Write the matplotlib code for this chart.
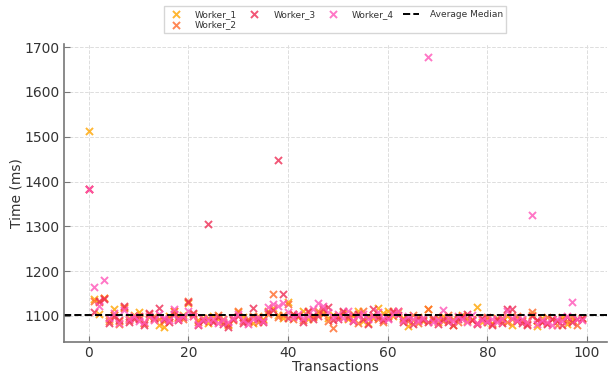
import matplotlib
matplotlib.use("Agg")
import matplotlib.pyplot as plt
import numpy as np

# transaction times (ms) per worker
worker_1 = [1512, 1137, 1105, 1140, 1092, 1115, 1088, 1120, 1095, 1102, 1108, 1085, 1098, 1092, 1080, 1076, 1100, 1110, 1095, 1102,
            1128, 1104, 1090, 1096, 1084, 1100, 1092, 1086, 1080, 1095, 1108, 1098, 1090, 1085, 1100, 1093, 1112, 1118, 1102, 1096,
            1130, 1105, 1098, 1112, 1094, 1100, 1106, 1110, 1095, 1102, 1098, 1104, 1092, 1100, 1110, 1088, 1084, 1096, 1118, 1106,
            1112, 1100, 1108, 1096, 1078, 1090, 1098, 1088, 1115, 1094, 1086, 1100, 1092, 1080, 1098, 1102, 1088, 1094, 1120, 1086,
            1092, 1084, 1096, 1088, 1100, 1080, 1094, 1090, 1086, 1102, 1078, 1096, 1084, 1092, 1088, 1098, 1082, 1090, 1094, 1096]
worker_2 = [1383, 1133, 1130, 1140, 1088, 1102, 1082, 1118, 1090, 1098, 1094, 1084, 1104, 1100, 1092, 1088, 1096, 1112, 1098, 1094,
            1133, 1100, 1086, 1092, 1096, 1088, 1102, 1094, 1082, 1090, 1112, 1088, 1094, 1100, 1086, 1090, 1104, 1150, 1098, 1102,
            1126, 1094, 1102, 1090, 1108, 1098, 1112, 1104, 1088, 1072, 1100, 1108, 1096, 1104, 1084, 1112, 1098, 1102, 1094, 1086,
            1100, 1108, 1110, 1092, 1088, 1102, 1084, 1096, 1115, 1090, 1096, 1088, 1102, 1094, 1086, 1100, 1096, 1090, 1084, 1092,
            1098, 1082, 1090, 1096, 1086, 1094, 1100, 1088, 1082, 1108, 1090, 1086, 1098, 1094, 1080, 1092, 1088, 1098, 1080, 1094]
worker_3 = [1383, 1108, 1134, 1138, 1085, 1098, 1090, 1122, 1086, 1094, 1100, 1080, 1106, 1096, 1117, 1092, 1086, 1104, 1090, 1098,
            1130, 1106, 1080, 1088, 1306, 1086, 1098, 1082, 1076, 1092, 1100, 1084, 1088, 1117, 1094, 1086, 1108, 1114, 1447, 1150,
            1096, 1104, 1100, 1086, 1112, 1092, 1100, 1116, 1120, 1090, 1094, 1110, 1100, 1088, 1104, 1094, 1082, 1116, 1098, 1090,
            1096, 1112, 1102, 1086, 1094, 1082, 1096, 1090, 1086, 1096, 1082, 1092, 1086, 1080, 1094, 1098, 1104, 1090, 1082, 1096,
            1086, 1080, 1092, 1084, 1115, 1116, 1088, 1084, 1080, 1100, 1090, 1086, 1082, 1094, 1088, 1080, 1098, 1086, 1092, 1096]
worker_4 = [1383, 1165, 1122, 1180, 1096, 1106, 1084, 1114, 1092, 1100, 1088, 1086, 1100, 1090, 1104, 1096, 1090, 1116, 1094, 1100,
            1110, 1100, 1082, 1094, 1090, 1092, 1084, 1090, 1086, 1096, 1104, 1090, 1082, 1092, 1098, 1088, 1120, 1126, 1122, 1128,
            1108, 1098, 1104, 1096, 1100, 1116, 1128, 1122, 1108, 1098, 1104, 1096, 1112, 1090, 1100, 1104, 1092, 1100, 1108, 1096,
            1094, 1104, 1112, 1090, 1100, 1094, 1088, 1096, 1677, 1086, 1090, 1114, 1096, 1088, 1100, 1094, 1086, 1102, 1084, 1090,
            1088, 1092, 1086, 1094, 1112, 1096, 1090, 1094, 1086, 1325, 1082, 1090, 1086, 1080, 1094, 1088, 1100, 1130, 1092, 1090]
worker_names = ["Worker_1", "Worker_2", "Worker_3", "Worker_4"]
avg_median = 1101

colors = ["#FFA500", "#FF6A2B", "#EE2D55", "#FF55B8"]

fig = plt.figure(figsize=(6.11, 3.75), dpi=100)
ax = fig.add_axes([0.105, 0.088, 0.888, 0.795])

for name, vals, c in zip(worker_names, [worker_1, worker_2, worker_3, worker_4], colors):
    ax.scatter(np.arange(len(vals)), vals, marker="x", s=26, linewidths=1.4,
               color=c, alpha=0.8, label=name)
ax.axhline(avg_median, color="black", linestyle="--", linewidth=1.4, label="Average Median")

ax.set_xlabel("Transactions", fontsize=10, color="#333333", labelpad=0)
ax.set_ylabel("Time (ms)", fontsize=10, color="#333333", labelpad=1)
ax.grid(True, linestyle="--", color="#dddddd", linewidth=0.7)
ax.set_axisbelow(True)
for s in ("top", "right"):
    ax.spines[s].set_visible(False)
for s in ("left", "bottom"):
    ax.spines[s].set_color("#777777")
    ax.spines[s].set_linewidth(1.2)
ax.tick_params(direction="in", labelsize=10, colors="#333333", length=4, pad=3)
ax.tick_params(axis="both", color="#777777")

leg = ax.legend(loc="upper center", bbox_to_anchor=(0.5, 1.142), ncol=4, fontsize=6.5,
                frameon=True, edgecolor="#cccccc", fancybox=False, columnspacing=1.0,
                handlelength=1.8, handletextpad=1.2, labelspacing=0.2, borderpad=0.4)
for t in leg.get_texts():
    t.set_color("#333333")

fig.savefig("out.png", dpi=100)
